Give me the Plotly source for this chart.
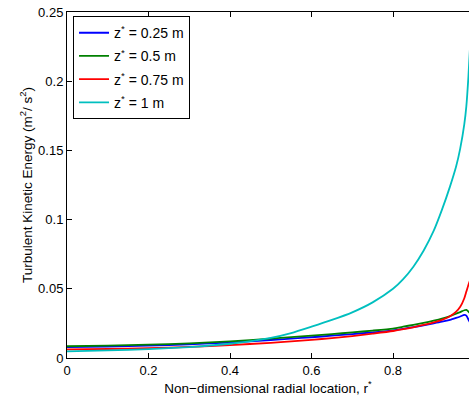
import plotly.graph_objects as go

r_star = [0, 0.1, 0.2, 0.3, 0.4, 0.5, 0.55, 0.6, 0.65, 0.7, 0.75, 0.8, 0.825, 0.85, 0.875, 0.9, 0.92, 0.94, 0.955, 0.965, 0.975, 0.98, 0.985, 0.99]

tke_025 = [0.0078, 0.0082, 0.0089, 0.0099, 0.0112, 0.0130, 0.0140, 0.0150, 0.0161, 0.0173, 0.0185, 0.0200, 0.0211, 0.0223, 0.0236, 0.0250, 0.0262, 0.0276, 0.0290, 0.0300, 0.0311, 0.0306, 0.0278, 0.0250]
tke_050 = [0.0085, 0.0089, 0.0096, 0.0106, 0.0120, 0.0140, 0.0151, 0.0162, 0.0173, 0.0185, 0.0198, 0.0213, 0.0226, 0.0240, 0.0254, 0.0270, 0.0285, 0.0303, 0.0320, 0.0332, 0.0345, 0.0348, 0.0336, 0.0320]
tke_075 = [0.0062, 0.0065, 0.0071, 0.0080, 0.0093, 0.0110, 0.0120, 0.0131, 0.0144, 0.0158, 0.0176, 0.0195, 0.0208, 0.0222, 0.0239, 0.0258, 0.0276, 0.0302, 0.0335, 0.0370, 0.0432, 0.0480, 0.0528, 0.0570]
tke_100 = [0.0048, 0.0055, 0.0064, 0.0079, 0.0103, 0.0145, 0.0180, 0.0226, 0.0275, 0.0330, 0.0402, 0.0500, 0.0570, 0.0660, 0.0775, 0.0920, 0.1070, 0.1240, 0.1385, 0.1515, 0.1690, 0.1820, 0.2030, 0.2300]

series_names = ["z<sup>*</sup> = 0.25 m", "z<sup>*</sup> = 0.5 m", "z<sup>*</sup> = 0.75 m", "z<sup>*</sup> = 1 m"]
series_values = [tke_025, tke_050, tke_075, tke_100]
series_colors = ["#0000ff", "#008000", "#ff0000", "#00bfbf"]

x_ticks = [0, 0.2, 0.4, 0.6, 0.8]
x_ticklabels = ["0", "0.2", "0.4", "0.6", "0.8"]
y_ticks = [0, 0.05, 0.1, 0.15, 0.2, 0.25]
y_ticklabels = ["0", "0.05", "0.1", "0.15", "0.2", "0.25"]

FONT = "Liberation Sans, Arial, Helvetica, sans-serif"

fig = go.Figure()
for i, (name, vals, col) in enumerate(zip(series_names, series_values, series_colors)):
    fig.add_trace(go.Scatter(x=r_star, y=vals, mode="lines", name=name, legendgroup=f"g{i}",
                             line=dict(color=col, width=1.8, shape="spline", smoothing=0.6)))

fig.update_layout(
    width=469, height=400,
    margin=dict(l=67, r=0, t=12, b=42),
    plot_bgcolor="white", paper_bgcolor="white",
    font=dict(family=FONT, size=13, color="black"),
    showlegend=True,
    legend=dict(x=0.015, y=0.988, xanchor="left", yanchor="top",
                bgcolor="white", bordercolor="black", borderwidth=1,
                font=dict(size=14, family=FONT, color="black"),
                itemwidth=30, tracegroupgap=2),
    xaxis=dict(range=[0, 0.9865], tickvals=x_ticks, ticktext=x_ticklabels, automargin=False,
               showline=True, linecolor="black", linewidth=1, mirror="ticks",
               ticks="inside", ticklen=5, tickcolor="black", showgrid=False, zeroline=False,
               title=dict(text="Non\u2212dimensional radial location, r<sup>*</sup>", font=dict(size=13.5), standoff=6)),
    yaxis=dict(range=[0, 0.25], tickvals=y_ticks, ticktext=y_ticklabels, automargin=False,
               showline=True, linecolor="black", linewidth=1, mirror=False,
               ticks="inside", ticklen=5, tickcolor="black", showgrid=False, zeroline=False,
               title=dict(text="Turbulent Kinetic Energy (m<sup>2</sup>/ s<sup>2</sup>)", font=dict(size=13.5), standoff=2)),
)

fig.write_html("out.html", config={"displayModeBar": False},
               post_script="document.body.style.margin='0';")
